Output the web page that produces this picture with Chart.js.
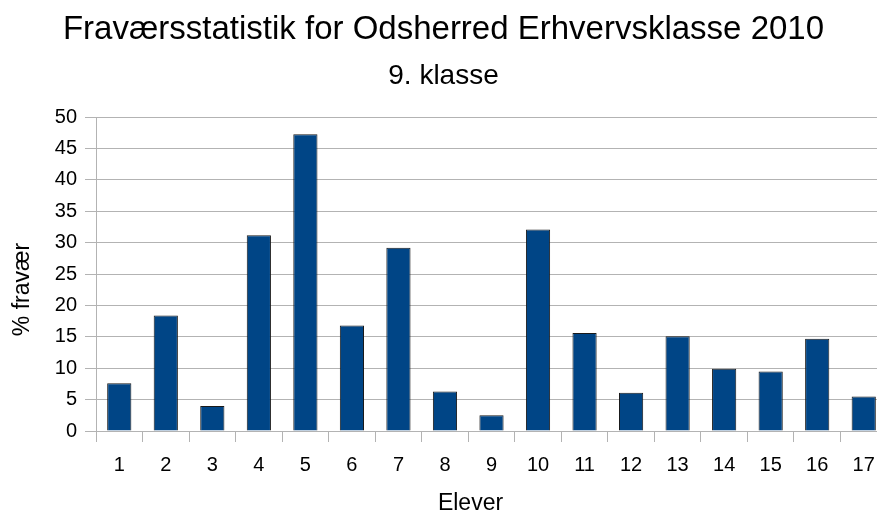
<!DOCTYPE html>
<html>
<head>
<meta charset="utf-8">
<script src="https://cdn.jsdelivr.net/npm/chart.js@4/dist/chart.umd.min.js"></script>
<style>
  html, body { margin: 0; padding: 0; background: #fff; overflow: hidden; }
  #wrap { position: relative; width: 887px; height: 515px; }
</style>
</head>
<body>
<div id="wrap"><canvas id="chart"></canvas></div>
<script>
// Fravær per elev (%)
const students = ['1', '2', '3', '4', '5', '6', '7', '8', '9', '10', '11', '12', '13', '14', '15', '16', '17'];
const absence = [7.6, 18.4, 4.0, 31.2, 47.3, 16.8, 29.2, 6.3, 2.5, 32.1, 15.6, 6.1, 15.1, 9.9, 9.5, 14.7, 5.5];
const yTicks = [0, 5, 10, 15, 20, 25, 30, 35, 40, 45, 50];

const gridGray = '#b3b3b3';
const font = 'Liberation Sans, Arial, sans-serif';

// axis titles drawn by hand: in the original they are not centred on the plot area
const axisTitles = {
    id: 'axisTitles',
    afterDraw(chart) {
        const ctx = chart.ctx;
        ctx.save();
        ctx.font = '23px ' + font;
        ctx.fillStyle = '#000';
        ctx.textAlign = 'center';
        ctx.textBaseline = 'middle';
        ctx.fillText('Elever', 470.5, 504);
        ctx.translate(22.5, 289.5);
        ctx.rotate(-Math.PI / 2);
        ctx.fillText('% fravær', 0, 0);
        ctx.restore();
    }
};

new Chart(document.getElementById('chart'), {
    type: 'bar',
    data: {
        labels: students,
        datasets: [{
            data: absence,
            backgroundColor: '#004586',
            borderColor: '#1a1a1a',
            borderWidth: 1,
            categoryPercentage: 1,
            barPercentage: 0.52
        }]
    },
    options: {
        responsive: true,
        maintainAspectRatio: false,
        animation: false,
        layout: { padding: 0 },
        plugins: {
            legend: { display: false },
            tooltip: { enabled: false },
            title: {
                display: true,
                text: 'Fraværsstatistik for Odsherred Erhvervsklasse 2010',
                color: '#000',
                font: { family: font, size: 33, weight: 'normal' },
                padding: { top: 10, bottom: 0 }
            },
            subtitle: {
                display: true,
                text: '9. klasse',
                color: '#000',
                font: { family: font, size: 28, weight: 'normal' },
                padding: { top: 10, bottom: 24 }
            }
        },
        scales: {
            x: {
                grid: { drawOnChartArea: false, drawTicks: true, tickLength: 11, color: gridGray, offset: true },
                border: { color: gridGray },
                ticks: { color: '#000', font: { family: font, size: 20 }, padding: 11 },
                afterFit(scale) { scale.height = 84; }
            },
            y: {
                min: 0,
                max: 50,
                afterBuildTicks(scale) { scale.ticks = yTicks.map(v => ({ value: v })); },
                grid: { color: gridGray, tickLength: 11 },
                border: { color: gridGray },
                ticks: { color: '#000', font: { family: font, size: 20 }, padding: 8 },
                afterFit(scale) { scale.width = 96; }
            }
        }
    },
    plugins: [axisTitles]
});
</script>
</body>
</html>
